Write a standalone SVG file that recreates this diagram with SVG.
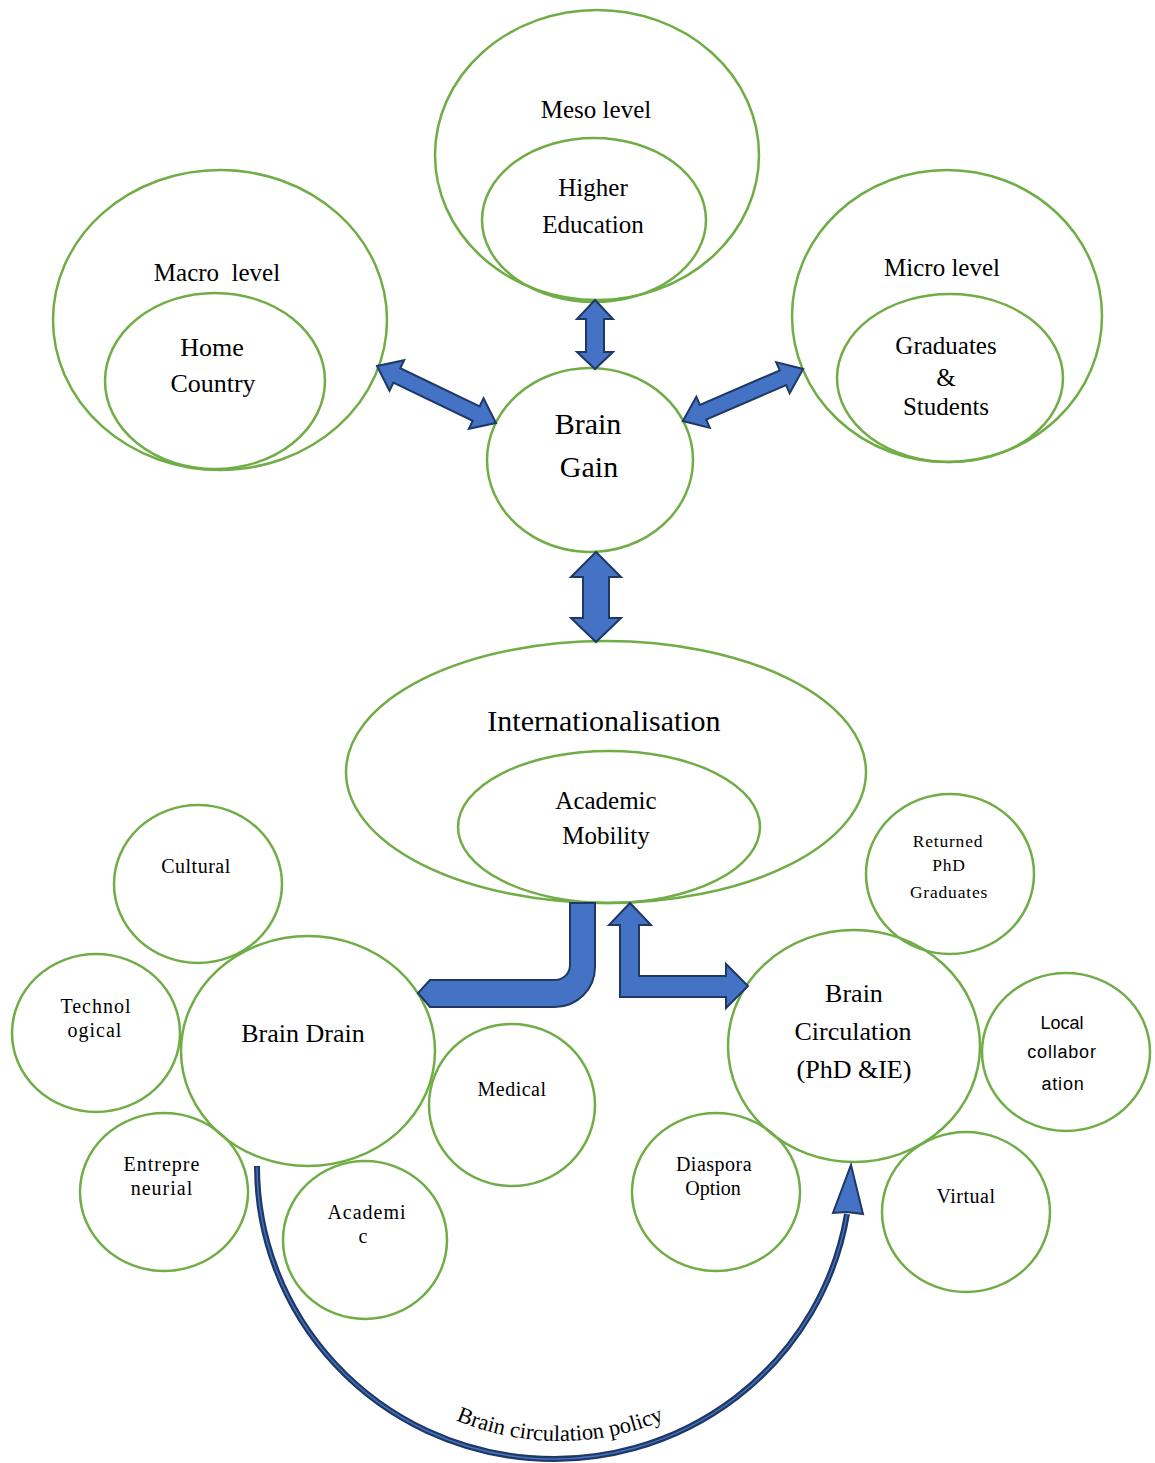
<svg xmlns="http://www.w3.org/2000/svg" width="1155" height="1463" viewBox="0 0 1155 1463">
<style>
.n{fill:none;stroke:#70AD47;stroke-width:2.5}
.t{font-family:"Liberation Serif","Times New Roman",serif;fill:#000;text-anchor:middle}
.s{font-family:"Liberation Sans",Arial,sans-serif;fill:#000;text-anchor:middle}
.a{fill:#4472C4;stroke:#1F3864;stroke-width:2;stroke-linejoin:miter}
</style>
<defs>
<path id="lbl" d="M288,1167 A272,274 0 0 0 832,1167"/>
</defs>
<rect width="1155" height="1463" fill="#fff"/>

<g id="meso">
<ellipse class="n" cx="597" cy="155" rx="162" ry="145"/>
<text class="t" x="596" y="118" font-size="25">Meso level</text>
</g>
<g id="higher-education">
<ellipse class="n" cx="594" cy="220" rx="112" ry="82"/>
<text class="t" x="593" y="196" font-size="25">Higher</text>
<text class="t" x="593" y="233" font-size="25">Education</text>
</g>
<g id="macro">
<ellipse class="n" cx="220" cy="320" rx="167" ry="150"/>
<text class="t" x="217" y="281" font-size="25" xml:space="preserve">Macro  level</text>
</g>
<g id="home-country">
<ellipse class="n" cx="215" cy="381" rx="110" ry="88"/>
<text class="t" x="212" y="356" font-size="26">Home</text>
<text class="t" x="213" y="392" font-size="26">Country</text>
</g>
<g id="micro">
<ellipse class="n" cx="947" cy="316" rx="155" ry="146"/>
<text class="t" x="942" y="276" font-size="25">Micro level</text>
</g>
<g id="graduates">
<ellipse class="n" cx="950" cy="378" rx="113" ry="84"/>
<text class="t" x="946" y="354" font-size="25">Graduates</text>
<text class="t" x="946" y="386" font-size="25">&amp;</text>
<text class="t" x="946" y="415" font-size="25">Students</text>
</g>
<g id="brain-gain">
<ellipse class="n" cx="590" cy="460" rx="103" ry="92"/>
<text class="t" x="588" y="434" font-size="30">Brain</text>
<text class="t" x="589" y="477" font-size="30">Gain</text>
</g>
<g id="internationalisation">
<ellipse class="n" cx="606" cy="772" rx="260" ry="131"/>
<text class="t" x="604" y="731" font-size="30">Internationalisation</text>
</g>
<g id="academic-mobility">
<ellipse class="n" cx="609" cy="827" rx="151" ry="76"/>
<text class="t" x="606" y="809" font-size="25">Academic</text>
<text class="t" x="606" y="844" font-size="25">Mobility</text>
</g>
<g id="cultural">
<ellipse class="n" cx="198" cy="884" rx="84" ry="79"/>
<text class="t" x="196" y="873" font-size="20" letter-spacing="0.5">Cultural</text>
</g>
<g id="technological">
<ellipse class="n" cx="96" cy="1033" rx="84" ry="79"/>
<text class="t" x="96" y="1013" font-size="20" letter-spacing="1">Technol</text>
<text class="t" x="95" y="1037" font-size="20" letter-spacing="1">ogical</text>
</g>
<g id="brain-drain">
<ellipse class="n" cx="308" cy="1051" rx="127" ry="115"/>
<text class="t" x="303" y="1042" font-size="26">Brain Drain</text>
</g>
<g id="entrepreneurial">
<ellipse class="n" cx="164" cy="1192" rx="84" ry="79"/>
<text class="t" x="162" y="1171" font-size="20" letter-spacing="1">Entrepre</text>
<text class="t" x="162" y="1195" font-size="20" letter-spacing="1">neurial</text>
</g>
<g id="academic">
<ellipse class="n" cx="365" cy="1240" rx="82" ry="79"/>
<text class="t" x="367" y="1219" font-size="20" letter-spacing="1">Academi</text>
<text class="t" x="363" y="1243" font-size="20">c</text>
</g>
<g id="medical">
<ellipse class="n" cx="512" cy="1105" rx="83" ry="81"/>
<text class="t" x="512" y="1096" font-size="20" letter-spacing="0.5">Medical</text>
</g>
<g id="returned-phd">
<ellipse class="n" cx="950" cy="874" rx="84" ry="80"/>
<text class="t" x="948" y="847" font-size="17.5" letter-spacing="0.8">Returned</text>
<text class="t" x="949" y="871" font-size="17.5" letter-spacing="0.8">PhD</text>
<text class="t" x="949" y="898" font-size="17.5" letter-spacing="0.8">Graduates</text>
</g>
<g id="brain-circulation">
<ellipse class="n" cx="854" cy="1046" rx="126" ry="116"/>
<text class="t" x="854" y="1002" font-size="26">Brain</text>
<text class="t" x="853" y="1040" font-size="26">Circulation</text>
<text class="t" x="854" y="1078" font-size="26">(PhD &amp;IE)</text>
</g>
<g id="local-collaboration">
<ellipse class="n" cx="1066" cy="1052" rx="84" ry="79"/>
<text class="s" x="1062" y="1029" font-size="18">Local</text>
<text class="s" x="1062" y="1058" font-size="18" letter-spacing="0.8">collabor</text>
<text class="s" x="1063" y="1090" font-size="18" letter-spacing="0.8">ation</text>
</g>
<g id="diaspora">
<ellipse class="n" cx="716" cy="1192" rx="84" ry="79"/>
<text class="t" x="714" y="1171" font-size="20" letter-spacing="0.5">Diaspora</text>
<text class="t" x="713" y="1195" font-size="20">Option</text>
</g>
<g id="virtual">
<ellipse class="n" cx="966" cy="1212" rx="84" ry="80"/>
<text class="t" x="966" y="1203" font-size="20" letter-spacing="0.5">Virtual</text>
</g>

<g id="connectors">
<path class="a" d="M595,300 L613,319 L604,319 L604,352 L613,352 L595,369 L577,352 L586,352 L586,319 L577,319 Z"/>
<path class="a" d="M596,552 L621,577 L609,577 L609,618 L621,618 L596,642 L571,618 L583,618 L583,577 L571,577 Z"/>
<path class="a" transform="translate(436.5,394.5) rotate(25.6)" d="M-66,0 L-44,-17 L-44,-8 L44,-8 L44,-17 L66,0 L44,17 L44,8 L-44,8 L-44,17 Z"/>
<path class="a" transform="translate(743,395) rotate(-23.4)" d="M-65.5,0 L-43.5,-17 L-43.5,-8 L43.5,-8 L43.5,-17 L65.5,0 L43.5,17 L43.5,8 L-43.5,8 L-43.5,17 Z"/>
<path class="a" d="M570,903 L595,903 L595,967 A40,40 0 0 1 555,1007 L430,1007 L418,993 L430,980 L555,980 A15,15 0 0 0 570,965 Z"/>
<path class="a" d="M620,997 L620,925 L609,925 L630,903 L651,925 L639,925 L639,976 L726,976 L726,964 L748,986 L726,1008 L726,997 Z"/>
<path d="M257,1166 A297,293 0 0 0 847,1214" fill="none" stroke="#1F3864" stroke-width="6"/>
<path d="M257,1167 A297,293 0 0 0 847,1214" fill="none" stroke="#4472C4" stroke-width="1.5"/>
<path class="a" d="M851,1165 L863,1214 L847,1212 L833,1213 Z"/>
<text class="t" font-size="22.5"><textPath href="#lbl" startOffset="50%">Brain circulation policy</textPath></text>
</g>
</svg>
